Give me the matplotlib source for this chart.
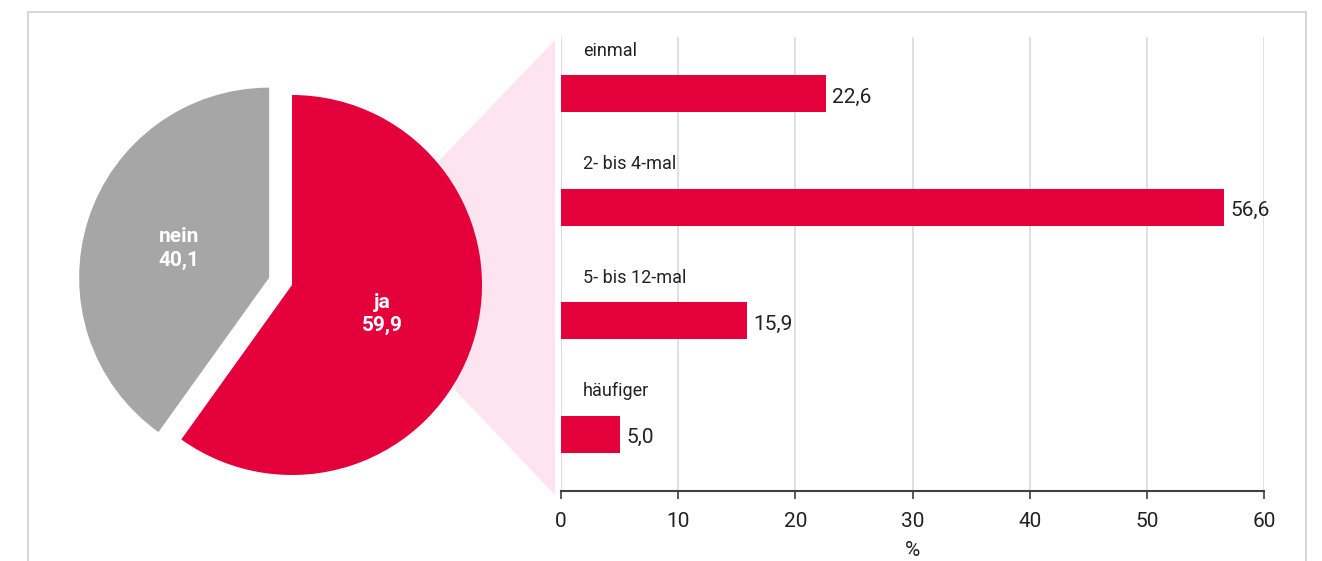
import numpy as np
import matplotlib.pyplot as plt
from matplotlib.patches import Polygon, Rectangle

# data
pie_labels = ['nein', 'ja']
pie_values = [40.1, 59.9]
pie_colors = ['#a6a6a6', '#e4003a']

bar_labels = ['einmal', '2- bis 4-mal', '5- bis 12-mal', 'häufiger']
bar_values = [22.6, 56.6, 15.9, 5.0]
x_ticks = [0, 10, 20, 30, 40, 50, 60]

RED = '#e4003a'
plt.rcParams['font.family'] = ['Roboto', 'DejaVu Sans']

W, H = 1322, 561
fig = plt.figure(figsize=(W / 100, H / 100), dpi=100)

# pie, drawn in pixel units over the whole figure
axp = fig.add_axes([0, 0, 1, 1])
axp.patch.set_alpha(0)

# outer frame + pink connector (pixel coords, y measured from top)
axp.add_patch(Rectangle((28, -10), 1306 - 28, H - 12 + 10, fill=False,
                        edgecolor='#d0d0d0', linewidth=1.2, zorder=0))
poly = [(437, H - 163), (555, H - 40), (555, H - 495), (455, H - 390)]
axp.add_patch(Polygon(poly, closed=True, facecolor='#fde4ee', edgecolor='none', zorder=0))

wedges, _ = axp.pie(pie_values, colors=pie_colors, startangle=90, counterclock=True,
                    explode=[24, 0], radius=190, center=(292, H - 285),
                    wedgeprops=dict(linewidth=0, zorder=2))
axp.set_xlim(0, W)
axp.set_ylim(0, H)
axp.set_aspect('equal')
axp.axis('off')
for w, lab, v in zip(wedges, pie_labels, pie_values):
    ang = np.deg2rad((w.theta1 + w.theta2) / 2)
    cx, cy = w.center
    tx = cx + 0.5 * w.r * np.cos(ang)
    ty = cy + 0.5 * w.r * np.sin(ang)
    axp.text(tx, ty, f'{lab}\n' + f'{v:.1f}'.replace('.', ','), ha='center', va='center',
             color='white', fontsize=15, fontweight='bold', linespacing=1.3, zorder=3)

# bar chart
W0, W1 = 561 / W, 1264 / W
axb = fig.add_axes([W0, 1 - 491 / H, W1 - W0, (491 - 37) / H])
axb.patch.set_alpha(0)
y = np.arange(len(bar_labels))
axb.barh(y, bar_values, height=0.33, color=RED, zorder=3)
axb.set_xlim(0, 60)
axb.set_ylim(len(bar_labels) - 0.5, -0.5)
axb.set_xticks(x_ticks)
axb.set_xticklabels([str(t) for t in x_ticks], fontsize=15, color='#222222')
axb.set_yticks([])
axb.grid(axis='x', color='#dadada', linewidth=1.2, zorder=0)
for s in ['top', 'right', 'left']:
    axb.spines[s].set_visible(False)
axb.spines['bottom'].set_color('#404040')
axb.spines['bottom'].set_linewidth(1.5)
axb.tick_params(axis='x', length=6, width=1.2, color='#404040', pad=9)
axb.set_xlabel('%', fontsize=15, color='#222222', labelpad=7)

for yi, lab, v in zip(y, bar_labels, bar_values):
    axb.text(1.85, yi - 0.38, lab, ha='left', va='center', fontsize=13, color='#222222')
    axb.text(v + 0.55, yi + 0.03, f'{v:.1f}'.replace('.', ','), ha='left', va='center',
             fontsize=15, color='#222222')

fig.savefig('out.png', dpi=100)
